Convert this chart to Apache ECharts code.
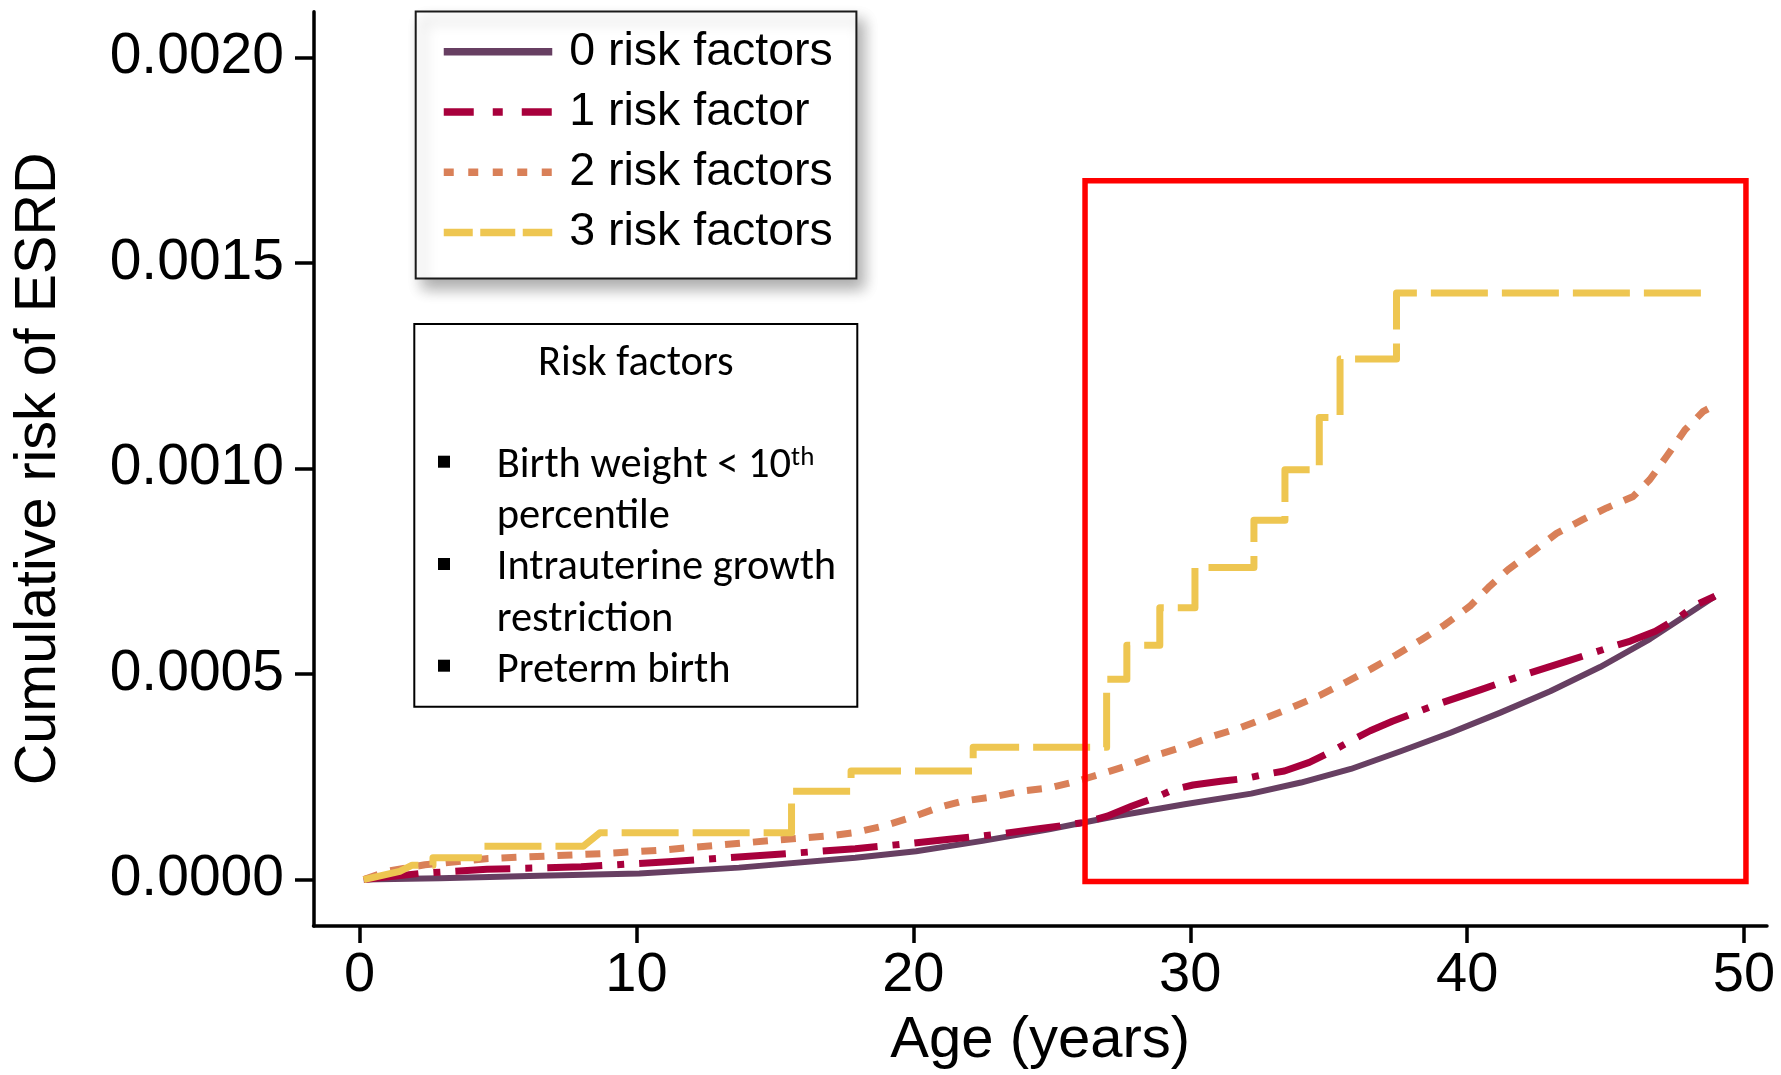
<!DOCTYPE html>
<html>
<head>
<meta charset="utf-8">
<script src="https://cdn.jsdelivr.net/npm/echarts@6/dist/echarts.min.js"></script>
<style>
html, body { margin: 0; padding: 0; background: #ffffff; }
#chart { width: 1781px; height: 1075px; }
</style>
</head>
<body>
<div id="chart"></div>
<script>
// ---------------- DATA ----------------
const seriesNames = ['0 risk factors', '1 risk factor', '2 risk factors', '3 risk factors'];
const xTicks = [0, 10, 20, 30, 40, 50];
const yTicks = [0, 0.0005, 0.0010, 0.0015, 0.0020];

// 0 risk factors
const ages0 = [0.15, 2.9, 6.5, 10.1, 13.7, 17.9, 20.1, 22.5, 24.9, 26.1, 27.3, 29.8, 32.2, 34.0, 35.8, 37.6, 39.4, 41.2, 43.0, 44.8, 46.6, 47.8, 48.95];
const risk0 = [0, 0.000003, 0.000009, 0.000015, 0.000029, 0.000053, 0.000069, 0.000094, 0.000122, 0.000138, 0.000154, 0.000183, 0.000209, 0.000236, 0.000269, 0.000312, 0.000357, 0.000406, 0.000458, 0.000517, 0.000585, 0.000638, 0.000689];

// 1 risk factor
const ages1 = [0.15, 2.2, 4.6, 8.0, 11.3, 14.6, 17.9, 19.6, 21.3, 23.0, 24.6, 26.1, 27.0, 27.9, 28.8, 29.4, 30.1, 31.1, 32.0, 32.7, 33.4, 34.3, 35.2, 35.9, 36.5, 37.3, 38.9, 40.5, 42.1, 43.7, 45.3, 45.9, 46.8, 47.7, 48.2, 48.95];
const risk1 = [0, 0.000015, 0.000025, 0.000031, 0.000044, 0.000059, 0.000075, 0.000086, 0.000098, 0.000110, 0.000124, 0.000138, 0.000154, 0.000179, 0.000201, 0.000219, 0.000230, 0.000239, 0.000246, 0.000256, 0.000264, 0.000285, 0.000315, 0.000341, 0.000362, 0.000385, 0.000426, 0.000462, 0.000499, 0.000533, 0.000568, 0.000580, 0.000604, 0.000640, 0.000666, 0.000689];

// 2 risk factors
const ages2 = [0.15, 1.0, 2.36, 4.65, 6.70, 8.74, 10.79, 12.83, 14.88, 16.93, 17.85, 18.91, 19.88, 20.90, 21.80, 22.89, 23.91, 24.93, 25.90, 26.92, 27.88, 28.84, 29.87, 30.83, 31.79, 32.76, 33.72, 34.68, 35.65, 36.55, 37.45, 38.36, 39.20, 40.10, 40.76, 41.48, 42.39, 43.23, 44.19, 45.04, 46.0, 46.60, 47.20, 47.87, 48.53, 48.7];
const risk2 = [0, 0.000020, 0.000036, 0.000051, 0.000057, 0.000063, 0.000071, 0.000083, 0.000095, 0.000106, 0.000114, 0.000130, 0.000150, 0.000175, 0.000191, 0.000201, 0.000215, 0.000223, 0.000239, 0.000260, 0.000280, 0.000304, 0.000325, 0.000349, 0.000369, 0.000394, 0.000420, 0.000448, 0.000481, 0.000513, 0.000547, 0.000584, 0.000620, 0.000665, 0.000710, 0.000754, 0.000799, 0.000842, 0.000876, 0.000904, 0.000932, 0.000973, 0.001029, 0.001094, 0.001139, 0.001145];

// 3 risk factors (step curve vertices)
const ages3 = [0.15, 1.45, 1.9, 2.65, 2.65, 4.29, 4.29, 8.08, 8.68, 15.6, 15.6, 17.75, 17.75, 22.16, 22.16, 26.98, 26.98, 27.71, 27.71, 28.9, 28.9, 30.17, 30.17, 32.30, 32.30, 33.42, 33.42, 34.66, 34.66, 35.41, 35.41, 37.45, 37.45, 48.54];
const risk3 = [0, 0.000020, 0.000035, 0.000035, 0.000053, 0.000053, 0.000081, 0.000081, 0.000114, 0.000114, 0.000215, 0.000215, 0.000264, 0.000264, 0.000322, 0.000322, 0.000487, 0.000487, 0.000570, 0.000570, 0.000661, 0.000661, 0.000759, 0.000759, 0.000874, 0.000874, 0.000997, 0.000997, 0.001124, 0.001124, 0.001266, 0.001266, 0.001427, 0.001427];

// highlighted region (red frame)
const highlightAge = [26.2, 50.07];
const highlightRisk = [-0.000005, 0.0017];

// second box text
const boxTitle = 'Risk factors';
const boxItems = [
  ['Birth weight < 10{sup|th}', 'percentile'],
  ['Intrauterine growth', 'restriction'],
  ['Preterm birth']
];

// ---------------- STYLE ----------------
const colors = ['#673f62', '#a8003c', '#d98058', '#eec651'];
const seriesDash = ['solid', [55, 15, 7, 15], [15, 13], [57, 14]];
const seriesWidth = [6, 7, 7, 7];
const legendDash = ['solid', [30, 19, 10, 19], [10, 14.5], [35, 7.5]];
const legendDashOffset = [0, 0, 0, 6];
const AX_FONT = '"Liberation Sans", Arial, Helvetica, sans-serif';
const BOX_FONT = 'Carlito, Lato, "Open Sans", sans-serif';

const agesAll = [ages0, ages1, ages2, ages3];
const riskAll = [risk0, risk1, risk2, risk3];

const series = seriesNames.map((name, i) => ({
  name: name,
  type: 'line',
  symbol: 'none',
  showSymbol: false,
  z: 2 + i * 0.01,
  silent: true,
  animation: false,
  lineStyle: { color: colors[i], width: seriesWidth[i], type: seriesDash[i], cap: 'butt', join: 'round' },
  itemStyle: { color: colors[i] },
  data: agesAll[i].map((a, k) => [a, riskAll[i][k]])
}));

series.push({
  name: 'highlight',
  type: 'line',
  symbol: 'none',
  silent: true,
  z: 3,
  animation: false,
  lineStyle: { color: '#ff0000', width: 5.5, type: 'solid', cap: 'square', join: 'miter' },
  data: [
    [highlightAge[0], highlightRisk[1]],
    [highlightAge[1], highlightRisk[1]],
    [highlightAge[1], highlightRisk[0]],
    [highlightAge[0], highlightRisk[0]],
    [highlightAge[0], highlightRisk[1]]
  ]
});

// ---------------- BOX 2 GRAPHICS ----------------
const box2 = { x: 414.3, y: 324, w: 443, h: 382.7 };
const titleMidY = 364;
const lineMidY = [466, 517, 568.7, 620.4, 671];
const bulletMidY = [461.7, 564, 665.7];
const textX = 496.7;
const bulletX = 438;

const graphics = [];
graphics.push({
  type: 'rect', z: 5, silent: true,
  shape: { x: 415.7, y: 11.5, width: 440.7, height: 267 },
  style: { fill: '#ffffff', stroke: '#1a1a1a', lineWidth: 2,
    shadowColor: 'rgba(0,0,0,0.32)', shadowBlur: 14, shadowOffsetX: 7, shadowOffsetY: 9 }
});
graphics.push({
  type: 'rect', z: 5, silent: true,
  shape: { x: box2.x, y: box2.y, width: box2.w, height: box2.h },
  style: { fill: '#ffffff', stroke: '#000000', lineWidth: 2 }
});
graphics.push({
  type: 'text', z: 6, silent: true, x: box2.x + box2.w / 2, y: titleMidY,
  style: { text: boxTitle, fontSize: 42.5, fontFamily: BOX_FONT, fill: '#000', align: 'center', verticalAlign: 'middle' }
});
let li = 0;
boxItems.forEach((lines, b) => {
  graphics.push({
    type: 'rect', z: 6, silent: true,
    shape: { x: bulletX, y: bulletMidY[b] - 6, width: 12, height: 12 },
    style: { fill: '#000' }
  });
  lines.forEach((t) => {
    graphics.push({
      type: 'text', z: 6, silent: true, x: textX, y: lineMidY[li],
      style: {
        text: t, fontSize: 42.5, fontFamily: BOX_FONT, fill: '#000', align: 'left', verticalAlign: 'middle',
        rich: { sup: { fontSize: 27, fontFamily: BOX_FONT, fill: '#000', verticalAlign: 'top' } }
      }
    });
    li++;
  });
});

// ---------------- CHART ----------------
const chart = echarts.init(document.getElementById('chart'), null, { renderer: 'canvas' });
chart.setOption({
  backgroundColor: '#ffffff',
  animation: false,
  grid: { left: 313.5, right: 14, top: 11.7, bottom: 148.3, containLabel: false },
  xAxis: {
    type: 'value',
    min: -1.665, max: 50.83,
    name: 'Age (years)', nameLocation: 'middle', nameGap: 86,
    nameTextStyle: { fontSize: 58, fontFamily: AX_FONT, color: '#000' },
    axisLine: { show: true, onZero: false, lineStyle: { color: '#000', width: 3.5 } },
    axisTick: { show: true, length: 17, customValues: xTicks, lineStyle: { color: '#000', width: 3.5 } },
    axisLabel: { show: true, customValues: xTicks, margin: 21.5, fontSize: 56, fontFamily: AX_FONT, color: '#000' },
    splitLine: { show: false }
  },
  yAxis: {
    type: 'value',
    min: -0.000113, max: 0.0021111,
    name: 'Cumulative risk of ESRD', nameLocation: 'middle', nameGap: 245,
    nameTextStyle: { fontSize: 57.5, fontFamily: AX_FONT, color: '#000' },
    axisLine: { show: true, onZero: false, lineStyle: { color: '#000', width: 3.5 } },
    axisTick: { show: true, length: 18.5, customValues: yTicks, lineStyle: { color: '#000', width: 3.5 } },
    axisLabel: { show: true, customValues: yTicks, margin: 29.5, fontSize: 57, fontFamily: AX_FONT, color: '#000',
      formatter: (v) => Number(v).toFixed(4) },
    splitLine: { show: false }
  },
  legend: {
    orient: 'vertical', left: 440, top: 26.7, padding: 0,
    itemWidth: 108.5, itemHeight: 14, itemGap: 10.25,
    selectedMode: false, z: 7,
    textStyle: { fontFamily: AX_FONT, fontSize: 46.5, color: '#000', lineHeight: 50, padding: [0, 0, 0, 12] },
    data: seriesNames.map((n, i) => ({
      name: n,
      itemStyle: { opacity: 0 },
      lineStyle: { color: colors[i], width: 7.5, type: legendDash[i], dashOffset: legendDashOffset[i], cap: 'butt', opacity: 1 }
    }))
  },
  graphic: graphics,
  series: series
});
</script>
</body>
</html>
